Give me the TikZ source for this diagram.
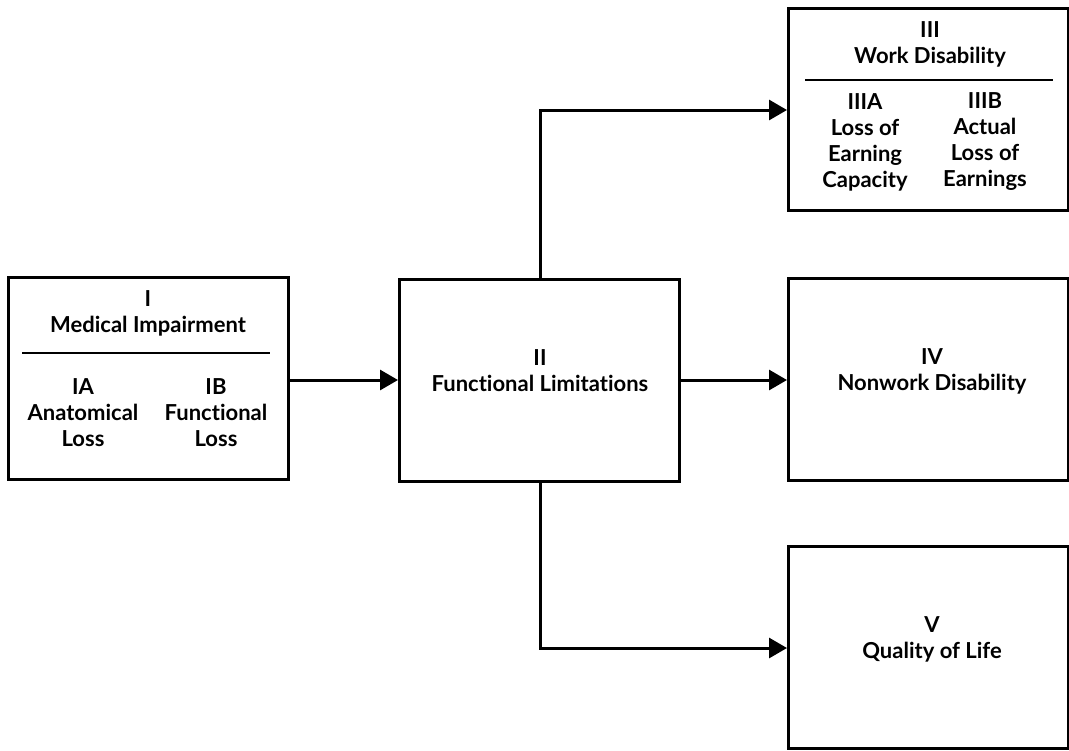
\documentclass[tikz,border=0pt]{standalone}
\usepackage{fontspec}
\setmainfont{Lato}[Ligatures=NoCommon]
\usetikzlibrary{arrows.meta, positioning, calc}
\tikzset{
	stage/.style    ={rectangle, draw=black, line width=1.5pt, minimum width=140pt, minimum height=101pt, inner sep=0pt},
	lbl/.style      ={align=center, font=\bfseries\fontsize{11}{13}\selectfont, inner sep=0pt},
	divider/.style  ={line width=1.3pt},
	link/.style     ={-{Triangle[length=9pt, width=10pt]}, line width=1.5pt},
}
\begin{document}
\begin{tikzpicture}[x=0.5pt, y=-0.5pt]
			\useasboundingbox (0,0) rectangle (1069,750);
			% stages
			\node[stage] (med) at (148.5,378.5) {};
			\node[stage] (fun) at (539.5,380) {};
			\node[stage] (work) at (928.5,109) {};
			\node[stage] (nonw) at (928.5,379) {};
			\node[stage] (qol) at (928.5,647.5) {};
			% box I
			\node[lbl] (medT) at (148,313) {I\\Medical Impairment};
			\draw[divider] (22,353) -- (270,353);
			\node[lbl] (medA) at (83,413) {IA\\Anatomical\\Loss};
			\node[lbl] (medB) at (216,413) {IB\\Functional\\Loss};
			% box II
			\node[lbl] (funT) at (540,371) {II\\Functional Limitations};
			% box III
			\node[lbl] (workT) at (930,44) {III\\Work Disability};
			\draw[divider] (805,80) -- (1053,80);
			\node[lbl] (workA) at (865,142) {IIIA\\Loss of\\Earning\\Capacity};
			\node[lbl] (workB) at (985,142) {IIIB\\Actual\\Loss of\\Earnings};
			% boxes IV and V
			\node[lbl] (nonwT) at (932,371) {IV\\Nonwork Disability};
			\node[lbl] (qolT) at (932,639) {V\\Quality of Life};
			% connectors
			\coordinate (up) at (540,110);
			\coordinate (dn) at (540,648);
			\draw[link] (med.east |- 0,380) -- (fun.west |- 0,380);
			\draw[link] (fun.east |- 0,380) -- (nonw.west |- 0,380);
			\draw[link] (fun.north -| up) -- (up) -- (work.west |- up);
			\draw[link] (fun.south -| dn) -- (dn) -- (qol.west |- dn);
		\end{tikzpicture}
\end{document}
